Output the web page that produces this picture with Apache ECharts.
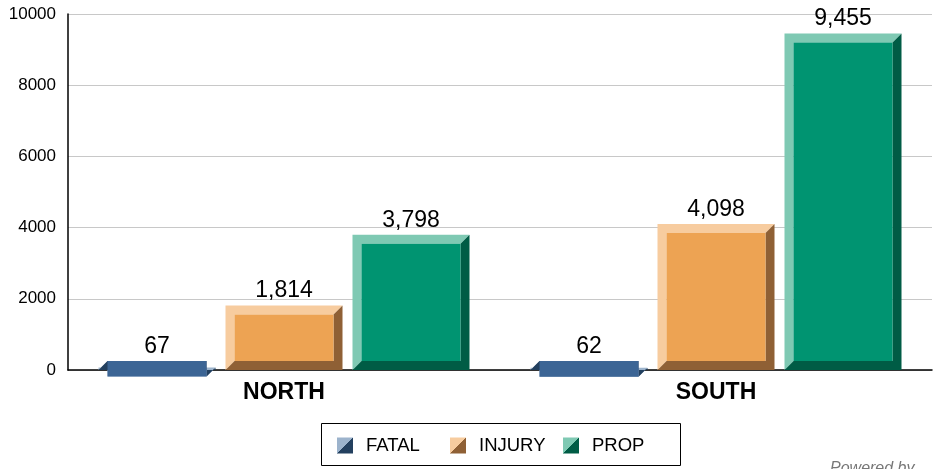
<!DOCTYPE html>
<html>
<head>
<meta charset="utf-8">
<script src="https://cdn.jsdelivr.net/npm/echarts@6/dist/echarts.min.js"></script>
<style>
  html, body { margin: 0; padding: 0; background: #fff; }
  #chart { width: 935px; height: 469px; }
</style>
</head>
<body>
<div id="chart"></div>
<script>
let chart = echarts.init(document.getElementById('chart'));

// 数据
const regions = ['NORTH', 'SOUTH'];
const seriesNames = ['FATAL', 'INJURY', 'PROP'];
const fatalValues = [67, 62];
const injuryValues = [1814, 4098];
const propValues = [3798, 9455];
const yTicks = [0, 2000, 4000, 6000, 8000, 10000];

// 颜色: 主色 / 亮边 / 暗边
const palette = {
    FATAL: {main: '#3c6595', light: '#9cb3cc', dark: '#23405f'},
    INJURY: {main: '#eda353', light: '#f7cc9f', dark: '#8f6035'},
    PROP: {main: '#009471', light: '#7fc9b3', dark: '#005c45'}
};

const barW = 117;
const bevel = 9;
const font = 'Liberation Sans, Arial, sans-serif';
const legendLefts = [337, 450, 563];

function fmt(v) {
    return String(v).replace(/(\d)(?=(\d{3})+$)/g, '$1,');
}

// 斜面柱子
function bevelBar(name, offset) {
    let c = palette[name];
    return function (params, api) {
        let idx = api.value(0);
        let val = api.value(1);
        let base = api.coord([idx, 0]);
        let top = api.coord([idx, val]);
        let x0 = base[0] + offset - barW / 2, x1 = x0 + barW;
        let y0 = top[1], y1 = base[1], b = bevel;
        let iy0 = Math.min(y0 + b, y1 - b), iy1 = Math.max(y0 + b, y1 - b);
        let labelY = Math.min(y0, iy0) - 3;
        return {
            type: 'group',
            children: [
                {
                    type: 'polygon',
                    shape: {points: [[x0, y1], [x0, y0], [x1, y0], [x1 - b, y0 + b], [x0 + b, y0 + b], [x0 + b, y1 - b]]},
                    style: {fill: c.light}
                },
                {
                    type: 'polygon',
                    shape: {points: [[x1, y0], [x1, y1], [x0, y1], [x0 + b, y1 - b], [x1 - b, y1 - b], [x1 - b, y0 + b]]},
                    style: {fill: c.dark}
                },
                {
                    type: 'rect',
                    shape: {x: x0 + b, y: iy0, width: barW - 2 * b, height: iy1 - iy0},
                    style: {fill: c.main}
                },
                {
                    type: 'text',
                    x: (x0 + x1) / 2,
                    y: labelY,
                    style: {
                        text: fmt(val),
                        fill: '#000',
                        font: '23px ' + font,
                        textAlign: 'center',
                        textVerticalAlign: 'bottom'
                    }
                }
            ]
        };
    };
}

function splitColor(c) {
    return {
        type: 'linear', x: 0, y: 0, x2: 1, y2: 1,
        colorStops: [
            {offset: 0, color: c.light}, {offset: 0.5, color: c.light},
            {offset: 0.5, color: c.dark}, {offset: 1, color: c.dark}
        ]
    };
}

function toData(arr) {
    return arr.map((v, i) => [i, v]);
}

// 图例：每项单独放置，外框用 graphic 画
let legends = seriesNames.map((n, i) => ({
    left: legendLefts[i],
    top: 436,
    padding: 0,
    itemWidth: 16,
    itemHeight: 16,
    icon: 'rect',
    textStyle: {color: '#000', fontSize: 18.5, fontFamily: font, padding: [0, 0, 0, 8]},
    data: [{name: n, itemStyle: {color: splitColor(palette[n])}}]
}));

let option = {
    animation: false,
    grid: {left: 68, right: 3, top: 14, bottom: 99},
    xAxis: {
        type: 'category',
        data: regions,
        axisTick: {show: false},
        axisLine: {lineStyle: {color: '#000', width: 1.5}},
        axisLabel: {color: '#000', fontSize: 23, fontWeight: 'bold', fontFamily: font, margin: 11}
    },
    yAxis: {
        type: 'value',
        min: 0,
        max: 10000,
        interval: 2000,
        axisLine: {show: true, lineStyle: {color: '#000', width: 1.5}},
        axisTick: {show: false},
        splitLine: {lineStyle: {color: '#c8c8c8'}},
        axisLabel: {
            color: '#000', fontSize: 17, fontFamily: font, margin: 12,
            formatter: v => yTicks.indexOf(v) >= 0 ? String(v) : ''
        }
    },
    legend: legends,
    graphic: [
        {
            type: 'rect',
            shape: {x: 321.5, y: 423.5, width: 359, height: 42},
            style: {fill: 'none', stroke: '#000', lineWidth: 1}
        },
        {
            type: 'text', left: 830, top: 461,
            style: {text: 'Powered by', fill: '#777', font: 'italic 16px ' + font}
        }
    ],
    series: [
        {name: 'FATAL', type: 'custom', renderItem: bevelBar('FATAL', -127), data: toData(fatalValues), itemStyle: {color: palette.FATAL.main}},
        {name: 'INJURY', type: 'custom', renderItem: bevelBar('INJURY', 0), data: toData(injuryValues), itemStyle: {color: palette.INJURY.main}},
        {name: 'PROP', type: 'custom', renderItem: bevelBar('PROP', 127), data: toData(propValues), itemStyle: {color: palette.PROP.main}}
    ]
};

chart.setOption(option);
</script>
</body>
</html>
